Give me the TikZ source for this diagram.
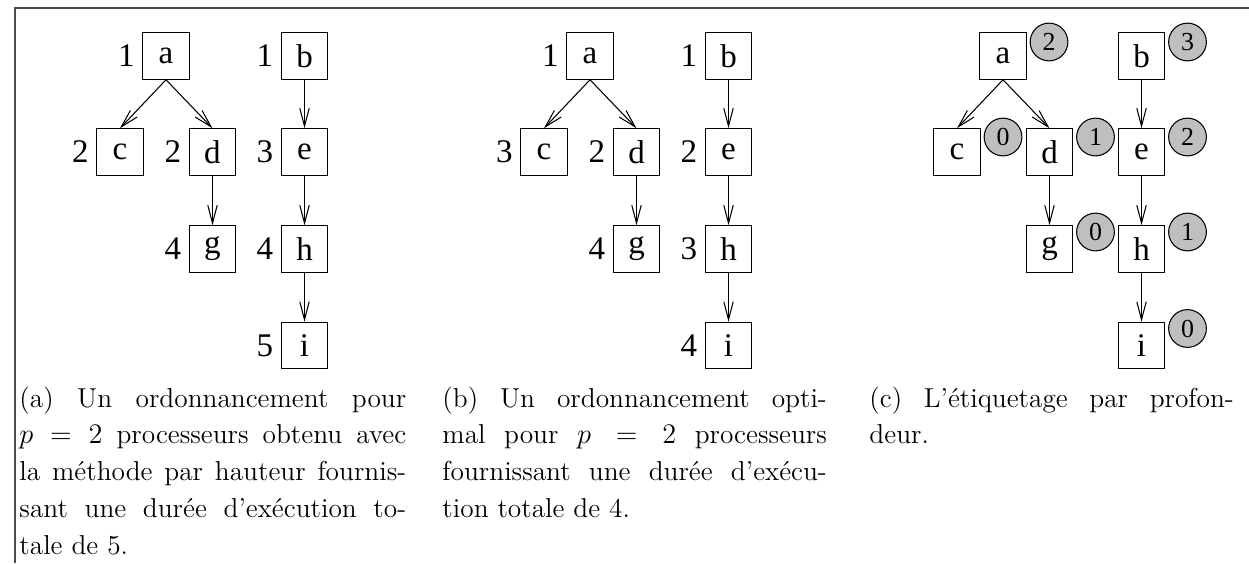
\documentclass[tikz,border=0pt]{standalone}
\usepackage{fontspec}
\usetikzlibrary{arrows.meta, positioning}
\newfontfamily\figfont{Liberation Serif}

\tikzset{
  task/.style={draw, rectangle, minimum size=19.7pt, inner sep=0pt, line width=0.45pt,
    font=\figfont\fontsize{14}{16}\selectfont},
  num/.style={inner sep=0pt, label distance=3pt, font=\figfont\fontsize{14}{16}\selectfont},
  prio/.style={draw, circle, fill=black!25, minimum size=16pt, inner sep=0pt, line width=0.45pt,
    font=\figfont\fontsize{11}{12}\selectfont},
  dep/.style={-{Straight Barb[length=7.6pt,width=4pt]}, line width=0.45pt},
  legende/.style={anchor=north west, align=justify, inner sep=0pt,
    font=\fontsize{11.6}{15.6}\selectfont}
}

\begin{document}
\begin{tikzpicture}[x=0.424pt, y=-0.424pt]
  \useasboundingbox (0,0) rectangle (1249,563);
  % Frame
  \draw[line width=0.5pt, black!70] (1249,8) -| (15,563);

  % (a) par hauteur
  \node[task, label={[num]left:1}] (a1) at (166,56) {a};
  \node[task, label={[num]left:1}] (b1) at (304.5,56) {b};
  \node[task, label={[num]left:2}] (c1) at (120,152) {c};
  \node[task, label={[num]left:2}] (d1) at (212.5,152) {d};
  \node[task, label={[num]left:3}] (e1) at (304.5,152) {e};
  \node[task, label={[num]left:4}] (g1) at (212.5,249) {g};
  \node[task, label={[num]left:4}] (h1) at (304.5,249) {h};
  \node[task, label={[num]left:5}] (i1) at (304.5,345.5) {i};

  % (b) optimal
  \begin{scope}[shift={(424,0)}]
    \node[task, label={[num]left:1}] (a2) at (166,56) {a};
    \node[task, label={[num]left:1}] (b2) at (304.5,56) {b};
    \node[task, label={[num]left:3}] (c2) at (120,152) {c};
    \node[task, label={[num]left:2}] (d2) at (212.5,152) {d};
    \node[task, label={[num]left:2}] (e2) at (304.5,152) {e};
    \node[task, label={[num]left:4}] (g2) at (212.5,249) {g};
    \node[task, label={[num]left:3}] (h2) at (304.5,249) {h};
    \node[task, label={[num]left:4}] (i2) at (304.5,345.5) {i};
  \end{scope}

  % (c) profondeur
  \begin{scope}[shift={(837,0)}]
    \node[task] (a3) at (166,56) {a};
    \node[task] (b3) at (304.5,56) {b};
    \node[task] (c3) at (120,152) {c};
    \node[task] (d3) at (212.5,152) {d};
    \node[task] (e3) at (304.5,152) {e};
    \node[task] (g3) at (212.5,249) {g};
    \node[task] (h3) at (304.5,249) {h};
    \node[task] (i3) at (304.5,345.5) {i};
  \end{scope}
  \node[prio] (pa) at ([shift={(46,-14)}]a3.center) {2};
  \node[prio] (pb) at ([shift={(46,-14)}]b3.center) {3};
  \node[prio] (pc) at ([shift={(46,-15)}]c3.center) {0};
  \node[prio] (pd) at ([shift={(46,-15)}]d3.center) {1};
  \node[prio] (pe) at ([shift={(46,-15)}]e3.center) {2};
  \node[prio] (pg) at ([shift={(46,-17)}]g3.center) {0};
  \node[prio] (ph) at ([shift={(46,-17)}]h3.center) {1};
  \node[prio] (pi) at ([shift={(46,-17)}]i3.center) {0};

  % Arrows
  \foreach \p in {1,2,3}
    \foreach \s/\t in {a/c, a/d, b/e, d/g, e/h, h/i}
      \draw[dep] (\s\p.south) -- (\t\p.north);

  % Legends
  \node[legende, text width=164pt] (lega) at (19,386) {(a) Un ordonnancement pour\linebreak
    $p=2$ processeurs obtenu avec\linebreak
    la méthode par hauteur fournis-\linebreak
    sant une durée d’exécution to-\linebreak
    tale de 5.};
  \node[legende, text width=163pt] (legb) at (442,386) {(b) Un ordonnancement opti-\linebreak
    mal pour $p=2$ processeurs\linebreak
    fournissant une durée d’exécu-\linebreak
    tion totale de 4.};
  \node[legende, text width=154.5pt] (legc) at (869,386) {(c) L’étiquetage par profon-\linebreak
    deur.};
\end{tikzpicture}
\end{document}
